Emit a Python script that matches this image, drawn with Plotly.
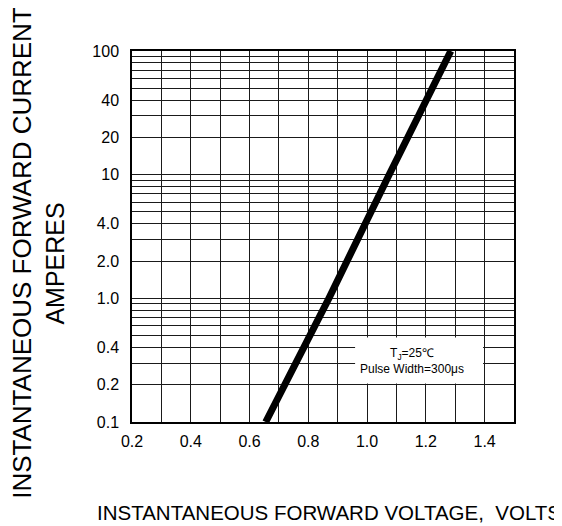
import plotly.graph_objects as go

# Data (straight line on semi-log axes)
forward_voltage = [0.655, 0.87, 1.075, 1.285]
forward_current = [0.1, 1.0, 10.0, 100.0]

x_tick_vals = [0.2, 0.4, 0.6, 0.8, 1.0, 1.2, 1.4]
x_tick_text = ["0.2", "0.4", "0.6", "0.8", "1.0", "1.2", "1.4"]
y_tick_vals = [0.1, 0.2, 0.4, 1, 2, 4, 10, 20, 40, 100]
y_tick_text = ["0.1", "0.2", "0.4", "1.0", "2.0", "4.0", "10", "20", "40", "100"]
y_grid_vals = [m * d for d in (0.1, 1, 10) for m in range(1, 10)] + [100]

FONT = "Liberation Sans, Arial, sans-serif"
GRID = "#1a1a1a"

fig = go.Figure()
fig.add_trace(go.Scatter(
    x=forward_voltage, y=forward_current, mode="lines",
    line=dict(color="black", width=7), cliponaxis=False,
    showlegend=False, hoverinfo="skip"))

fig.update_layout(
    width=554, height=518,
    margin=dict(l=124, r=48, t=43, b=104),
    paper_bgcolor="white", plot_bgcolor="white",
    font=dict(family=FONT, size=16, color="black"),
    xaxis=dict(
        range=[0.2, 1.5], tickmode="array", tickvals=x_tick_vals, ticktext=x_tick_text,
        showgrid=True, gridcolor=GRID, gridwidth=1,
        minor=dict(dtick=0.1, tick0=0.2, showgrid=True, gridcolor=GRID, gridwidth=1),
        showline=True, linecolor="black", linewidth=1.5, mirror=True,
        ticks="", zeroline=False, ticklabelstandoff=4,
        tickfont=dict(family=FONT, size=16)),
    yaxis=dict(
        type="log", range=[-1, 2], tickmode="array", tickvals=y_tick_vals, ticktext=y_tick_text,
        showgrid=True, gridcolor=GRID, gridwidth=1,
        minor=dict(tickmode="array", tickvals=y_grid_vals, showgrid=True, gridcolor=GRID, gridwidth=1),
        showline=True, linecolor="black", linewidth=1.5, mirror=True,
        ticks="", zeroline=False, ticklabelstandoff=8,
        tickfont=dict(family=FONT, size=16)),
    shapes=[dict(type="rect", xref="x domain", yref="y domain",
                 x0=0.584, x1=0.919, y0=0.104, y1=0.228,
                 fillcolor="white", line=dict(width=0), layer="above")],
    annotations=[
        dict(text="T<sub>J</sub>=25℃<br>Pulse Width=300μs", xref="x domain", yref="y domain",
             x=0.732, y=0.164, xanchor="center", yanchor="middle", showarrow=False,
             font=dict(family=FONT, size=12, color="black")),
        dict(text="INSTANTANEOUS FORWARD VOLTAGE,  VOLTS", xref="paper", yref="paper",
             x=0.515, y=-0.243, xanchor="center", yanchor="middle", showarrow=False,
             font=dict(family=FONT, size=20.5, color="black")),
        dict(text="INSTANTANEOUS FORWARD CURRENT", xref="paper", yref="paper",
             x=-0.287, y=0.457, xanchor="center", yanchor="middle", showarrow=False,
             textangle=-90, font=dict(family=FONT, size=26, color="black")),
        dict(text="AMPERES", xref="paper", yref="paper",
             x=-0.2006, y=0.428, xanchor="center", yanchor="middle", showarrow=False,
             textangle=-90, font=dict(family=FONT, size=25, color="black")),
    ],
)

fig.write_html("out.html")
